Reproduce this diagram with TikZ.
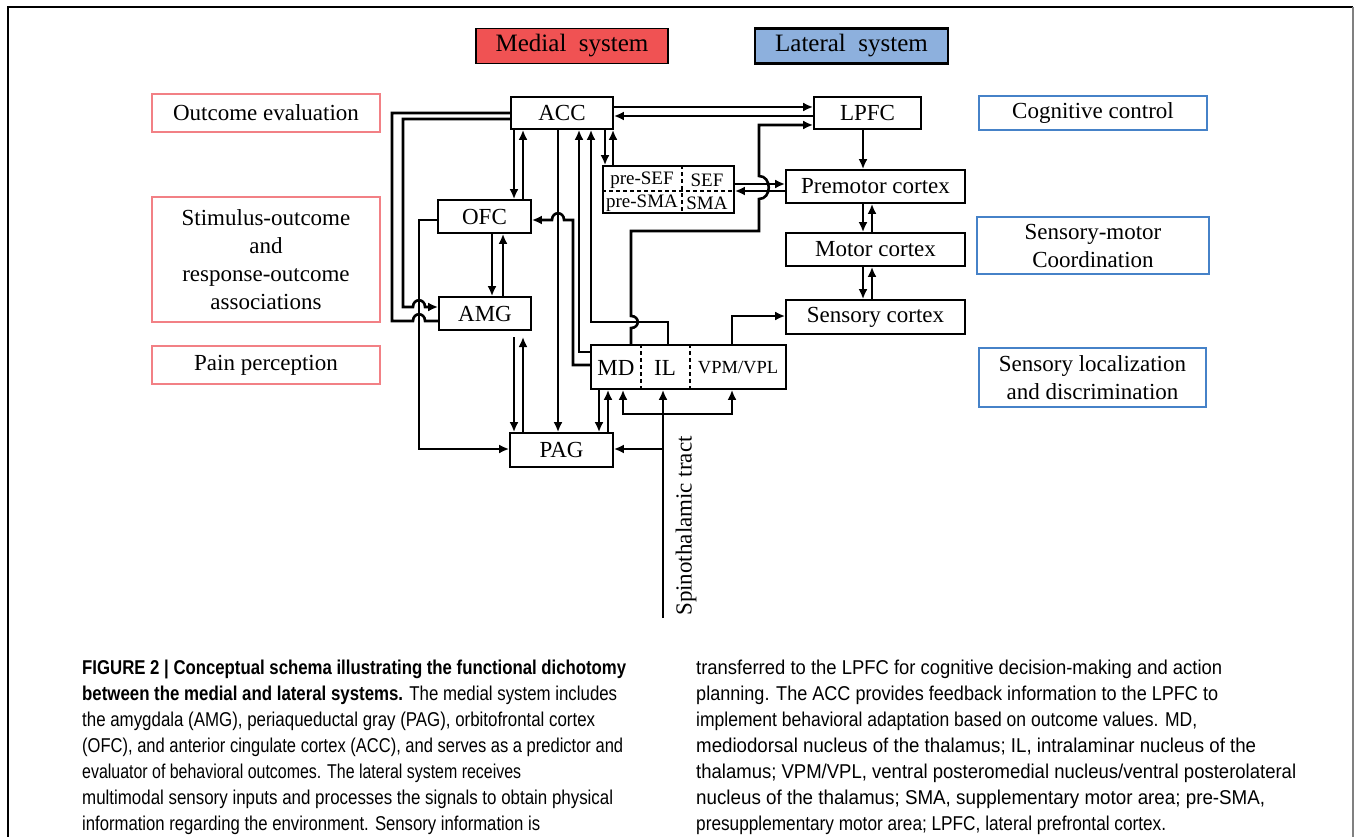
\documentclass[tikz,border=0pt]{standalone}
\usepackage{fontspec}
\setmainfont{Liberation Serif}
\newfontfamily\capfont{Liberation Sans}
\usetikzlibrary{arrows.meta,calc}
\definecolor{medfill}{RGB}{240,82,83}
\definecolor{latfill}{RGB}{141,176,221}
\definecolor{pinkb}{RGB}{242,128,133}
\definecolor{blueb}{RGB}{70,130,200}
\newsavebox\capbox
\newlength\caplen
\newcommand\capline[2]{\sbox\capbox{#2}\setlength\caplen{\wd\capbox}\pgfmathsetmacro\capsc{#1/\the\caplen}\scalebox{\capsc}[1]{\usebox\capbox}}
\tikzset{
  box/.style={draw=black, line width=1.8pt, inner sep=0pt, font=\fontsize{23}{28}\selectfont},
  lbl/.style={line width=2pt, inner sep=0pt, align=center, font=\fontsize{23}{28}\selectfont},
  sysbox/.style={draw=black, line width=1.8pt, inner sep=0pt, font=\fontsize{25}{30}\selectfont},
  small/.style={inner sep=0pt, font=\fontsize{19}{22}\selectfont},
  dsh/.style={line width=1.5pt, dash pattern=on 4pt off 3pt},
  ln/.style={line width=2.6pt},
  arr/.style={line width=2.6pt, -{Latex[length=10pt,width=9pt]}},
  capst/.style={inner sep=0pt, anchor=base west, font=\capfont\fontsize{20}{24}\selectfont},
}
\begin{document}
\begin{tikzpicture}[x=1pt,y=-1pt]
\useasboundingbox (0,0) rectangle (1354,837);
% frame
\draw[line width=1.5pt] (8,837) -- (8,7) -- (1353,7);
\draw[gray, line width=1.2pt] (1353,7) -- (1353,837);

% system headers
\node[sysbox, fill=medfill, minimum width=192, minimum height=35] (med) at (572,46) {Medial\ \ system};
\node[sysbox, fill=latfill, line width=2.4pt, minimum width=193, minimum height=35] (lat) at (851.5,46) {Lateral\ \ system};

% side labels
\node[lbl, draw=pinkb, minimum width=228, minimum height=38] (oe) at (266,113) {Outcome evaluation};
\node[lbl, draw=pinkb, minimum width=228, minimum height=125] (so) at (266,259.5) {Stimulus-outcome\\and\\response-outcome\\associations};
\node[lbl, draw=pinkb, minimum width=228, minimum height=38] (pp) at (266,365) {Pain perception};
\node[lbl, draw=blueb, minimum width=228, minimum height=34] (cc) at (1093,113) {Cognitive control};
\node[lbl, draw=blueb, minimum width=232, minimum height=57] (smc) at (1093,245.5) {Sensory-motor\\Coordination};
\node[lbl, draw=blueb, minimum width=227, minimum height=59] (sld) at (1092.5,377.5) {Sensory localization\\and discrimination};

% main nodes
\node[box, minimum width=102, minimum height=32] (ACC) at (562,113) {ACC};
\node[box, minimum width=107, minimum height=32] (LPFC) at (867.5,113) {LPFC};
\node[box, minimum width=93, minimum height=33] (OFC) at (484.5,216.5) {OFC};
\node[box, minimum width=131, minimum height=47] (preSEF) at (668.5,189.5) {};
\node[box, minimum width=179, minimum height=33] (Premotor) at (875.5,186.5) {Premotor cortex};
\node[box, minimum width=179, minimum height=33] (Motor) at (875.5,249.5) {Motor cortex};
\node[box, minimum width=179, minimum height=34] (Sensory) at (875.5,317) {Sensory cortex};
\node[box, minimum width=92, minimum height=33] (AMG) at (485,313.5) {AMG};
\node[box, minimum width=195, minimum height=44] (Thal) at (688.5,367) {};
\node[box, minimum width=103, minimum height=34] (PAG) at (561.5,450) {PAG};

% pre-SEF subdivisions
\draw[dsh] (preSEF.west |- 0,191) -- (preSEF.east |- 0,191);
\draw[dsh] (682,0 |- preSEF.north) -- (682,0 |- preSEF.south);
\node[small] (psef) at (642,180) {pre-SEF};
\node[small] (sef) at (707,180) {SEF};
\node[small] (psma) at (642,203) {pre-SMA};
\node[small] (sma) at (707,203) {SMA};

% thalamus subdivisions
\draw[dsh] (641,0 |- Thal.north) -- (641,0 |- Thal.south);
\draw[dsh] (690,0 |- Thal.north) -- (690,0 |- Thal.south);
\node[inner sep=0pt, font=\fontsize{23}{28}\selectfont] (MD) at (616,368) {MD};
\node[inner sep=0pt, font=\fontsize{23}{28}\selectfont] (IL) at (665,368) {IL};
\node[inner sep=0pt, font=\fontsize{18.5}{22}\selectfont] (VPM) at (738,368) {VPM/VPL};

% spinothalamic tract
\coordinate (st) at (663,618);
\node[inner sep=0pt, rotate=90, font=\fontsize{23}{28}\selectfont] (stl) at (686,526) {Spinothalamic tract};

% ACC <-> LPFC
\draw[arr] (ACC.east |- 0,107) -- (LPFC.west |- 0,107);
\draw[arr] (LPFC.west |- 0,116) -- (ACC.east |- 0,116);
% MD -> LPFC (with hops)
\draw[arr] (631,0 |- Thal.north) -- (631,328) .. controls (640,328) and (640,316) .. (631,316) -- (631,231) -- (759,231) -- (759,199) .. controls (772,199) and (772,176) .. (759,176) -- (759,125) -- (LPFC.west |- 0,125);
% preSEF <-> Premotor
\draw[arr] (preSEF.east |- 0,184) -- (Premotor.west |- 0,184);
\draw[arr] (Premotor.west |- 0,191) -- (preSEF.east |- 0,191);
% ACC <-> preSEF
\draw[arr] (605,0 |- ACC.south) -- (605,0 |- preSEF.north);
\draw[arr] (613,0 |- preSEF.north) -- (613,0 |- ACC.south);
% ACC <-> OFC
\draw[arr] (514,0 |- ACC.south) -- (514,0 |- OFC.north);
\draw[arr] (523,0 |- OFC.north) -- (523,0 |- ACC.south);
% ACC -> PAG
\draw[arr] (558,0 |- ACC.south) -- (558,0 |- PAG.north);
% MD -> OFC
\draw[arr] (Thal.west |- 0,365) -- (573,365) -- (573,220) -- (564,220) .. controls (564,211) and (552,211) .. (552,220) -- (OFC.east |- 0,220);
% MD -> ACC
\draw[arr] (Thal.west |- 0,352) -- (579,352) -- (579,0 |- ACC.south);
% IL -> ACC
\draw[arr] (668,0 |- Thal.north) -- (668,322) -- (591,322) -- (591,0 |- ACC.south);
% OFC <-> AMG
\draw[arr] (492,0 |- OFC.south) -- (492,0 |- AMG.north);
\draw[arr] (503,0 |- AMG.north) -- (503,0 |- OFC.south);
% OFC -> PAG
\draw[arr] (OFC.west |- 0,220) -- (419,220) -- (419,449) -- (PAG.west |- 0,449);
% ACC -> AMG
\draw[arr] (ACC.west |- 0,119) -- (403,119) -- (403,307) -- (413,307) .. controls (413,298) and (425,298) .. (425,307) -- (AMG.west |- 0,307);
% AMG - ACC
\draw[ln] (AMG.west |- 0,321) -- (425,321) .. controls (425,312) and (413,312) .. (413,321) -- (392,321) -- (392,113) -- (ACC.west |- 0,113);
% AMG <-> PAG
\draw[arr] (514,337) -- (514,0 |- PAG.north);
\draw[arr] (523,0 |- PAG.north) -- (523,337);
% Thal <-> PAG
\draw[arr] (599,0 |- Thal.south) -- (599,0 |- PAG.north);
\draw[arr] (608,0 |- PAG.north) -- (608,0 |- Thal.south);
% spinothalamic inputs
\draw[arr] (st) -- (663,0 |- Thal.south);
\draw[arr] (663,414) -- (623,414) -- (623,0 |- Thal.south);
\draw[arr] (663,414) -- (732,414) -- (732,0 |- Thal.south);
\draw[arr] (663,449) -- (PAG.east |- 0,449);
% VPM -> Sensory cortex
\draw[arr] (732,0 |- Thal.north) -- (732,316) -- (Sensory.west |- 0,316);
% lateral chain
\draw[arr] (863,0 |- LPFC.south) -- (863,0 |- Premotor.north);
\draw[arr] (863,0 |- Premotor.south) -- (863,0 |- Motor.north);
\draw[arr] (872,0 |- Motor.north) -- (872,0 |- Premotor.south);
\draw[arr] (863,0 |- Motor.south) -- (863,0 |- Sensory.north);
\draw[arr] (872,0 |- Sensory.north) -- (872,0 |- Motor.south);

% caption
\node[capst] (l1) at (82,674) {\capline{544}{\bfseries FIGURE 2 | Conceptual schema illustrating the functional dichotomy}};
\node[capst] (l2) at (82,700) {\capline{535}{{\bfseries between the medial and lateral systems.} The medial system includes}};
\node[capst] (l3) at (82,726) {\capline{513}{the amygdala (AMG), periaqueductal gray (PAG), orbitofrontal cortex}};
\node[capst] (l4) at (82,752) {\capline{541}{(OFC), and anterior cingulate cortex (ACC), and serves as a predictor and}};
\node[capst] (l5) at (82,778) {\capline{439}{evaluator of behavioral outcomes. The lateral system receives}};
\node[capst] (l6) at (82,804) {\capline{531}{multimodal sensory inputs and processes the signals to obtain physical}};
\node[capst] (l7) at (82,830) {\capline{458}{information regarding the environment. Sensory information is}};
\node[capst] (r1) at (696,674) {\capline{526}{transferred to the LPFC for cognitive decision-making and action}};
\node[capst] (r2) at (696,700) {\capline{522}{planning. The ACC provides feedback information to the LPFC to}};
\node[capst] (r3) at (696,726) {\capline{501}{implement behavioral adaptation based on outcome values. MD,}};
\node[capst] (r4) at (696,752) {\capline{560}{mediodorsal nucleus of the thalamus; IL, intralaminar nucleus of the}};
\node[capst] (r5) at (696,778) {\capline{600}{thalamus; VPM/VPL, ventral posteromedial nucleus/ventral posterolateral}};
\node[capst] (r6) at (696,804) {\capline{569}{nucleus of the thalamus; SMA, supplementary motor area; pre-SMA,}};
\node[capst] (r7) at (696,830) {\capline{470}{presupplementary motor area; LPFC, lateral prefrontal cortex.}};
\end{tikzpicture}
\end{document}
